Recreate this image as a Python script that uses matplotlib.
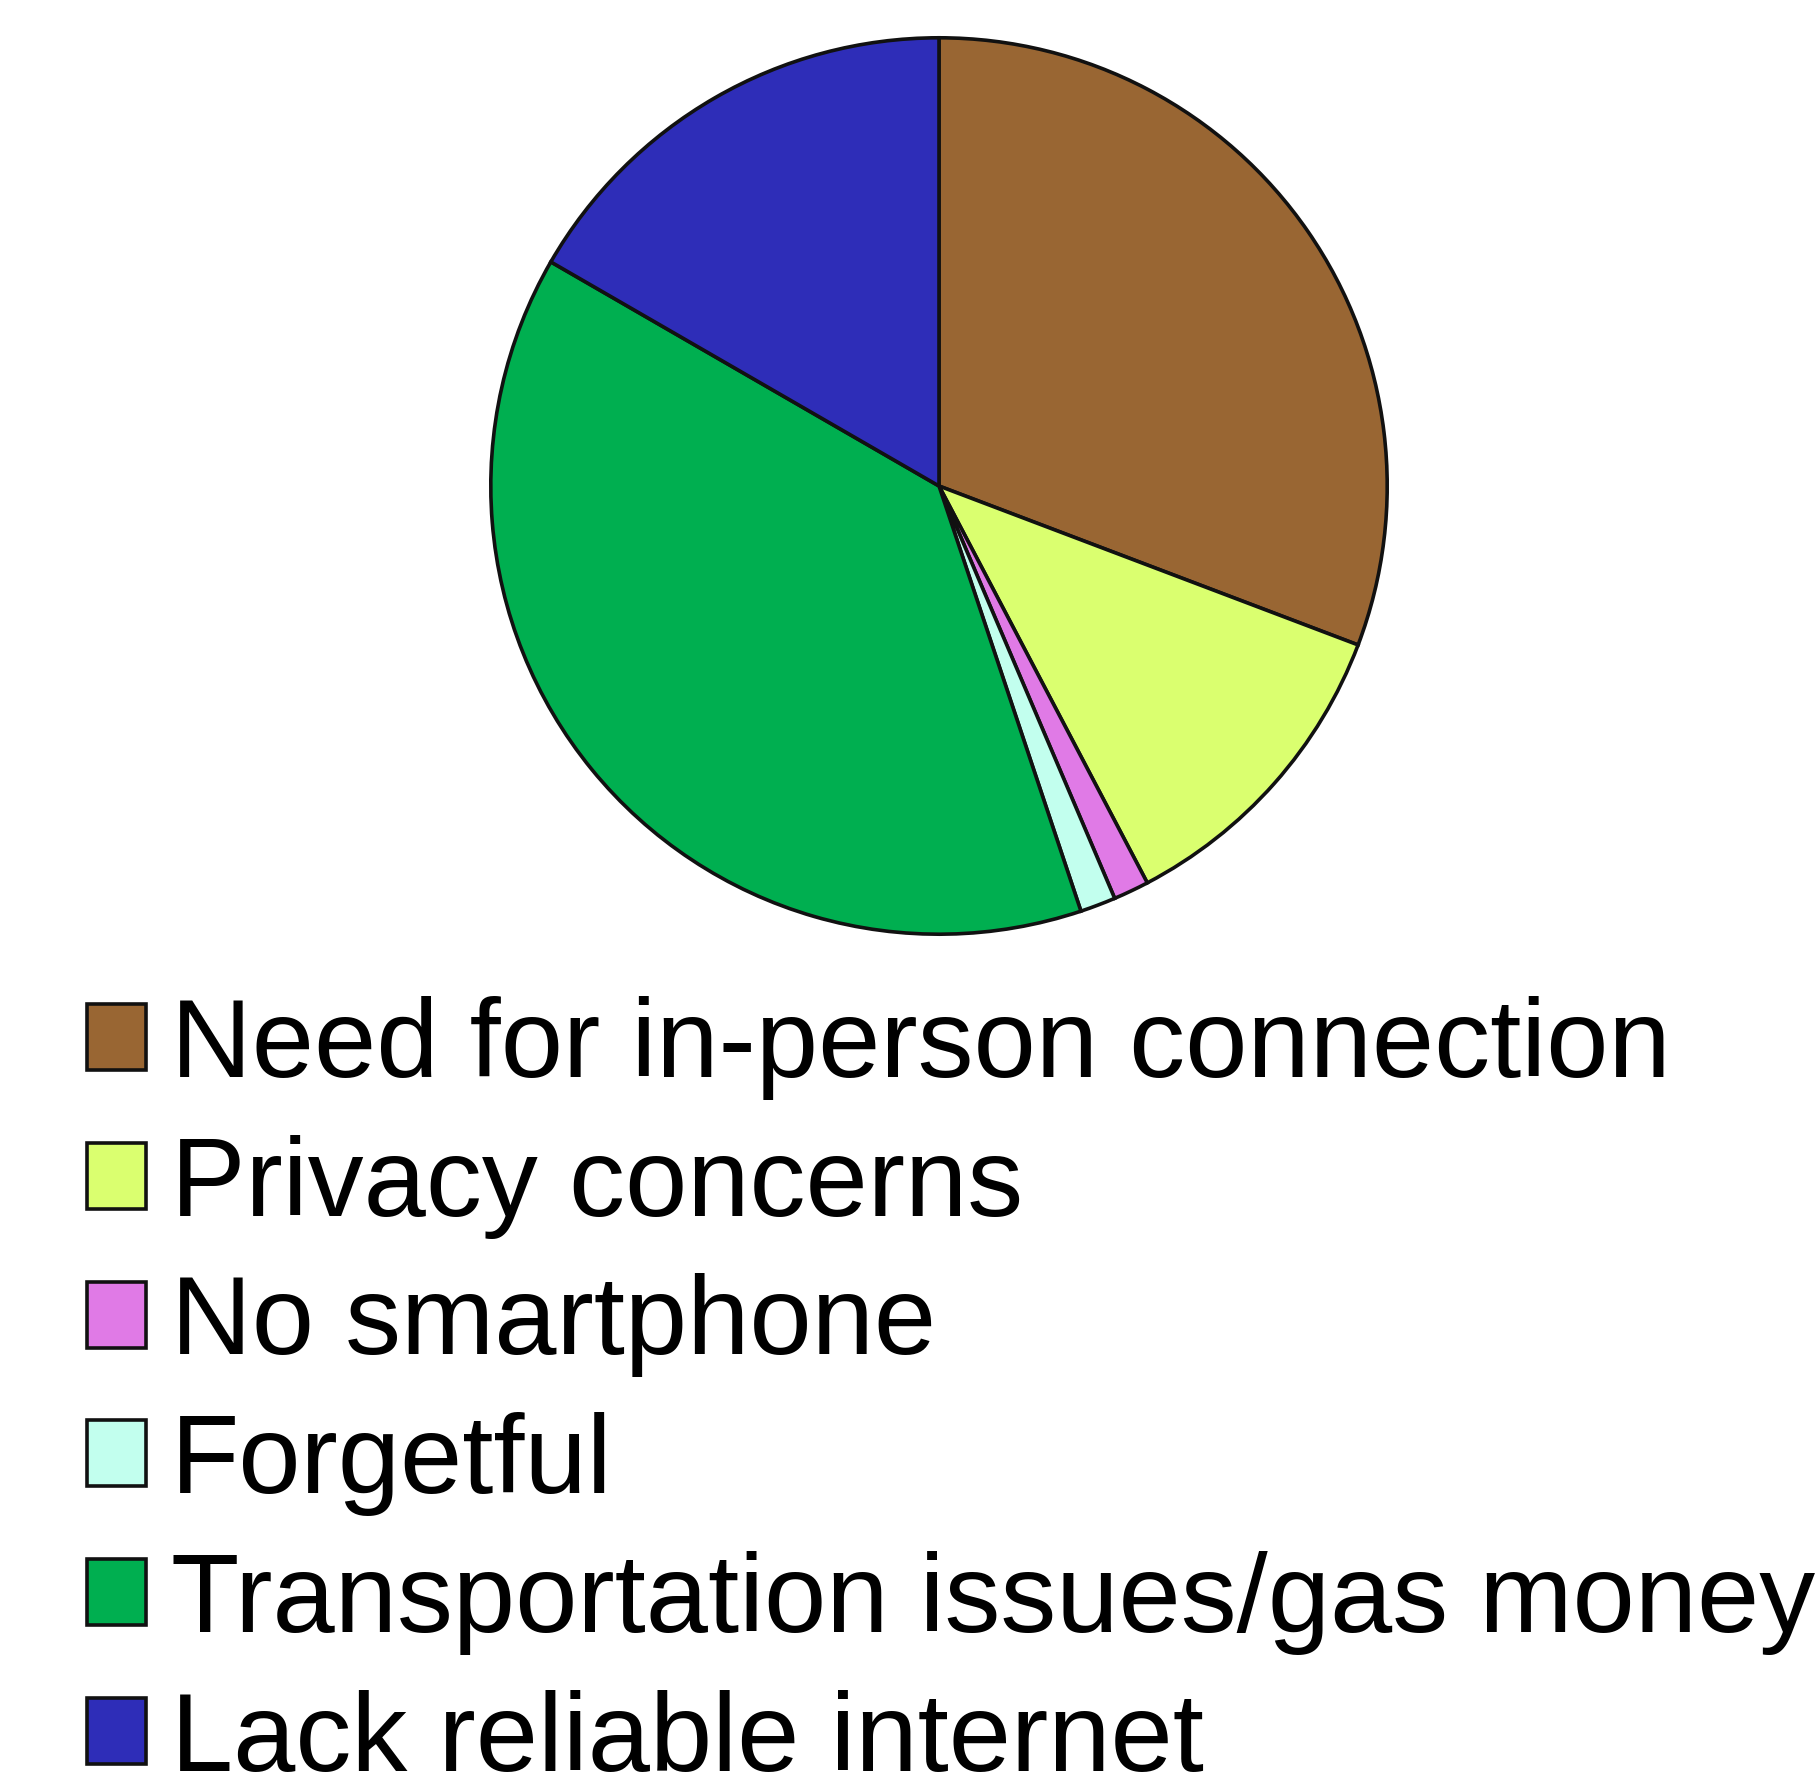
import matplotlib.pyplot as plt

plt.rcParams["font.family"] = ["Liberation Sans", "DejaVu Sans"]

labels = [
    "Need for in-person connection",
    "Privacy concerns",
    "No smartphone",
    "Forgetful",
    "Transportation issues/gas money",
    "Lack reliable internet",
]
counts = [24, 9, 1, 1, 30, 13]
colors = ["#996633", "#DAFF6F", "#E07AE6", "#C2FFEE", "#00AF50", "#2E2DB8"]

W, H = 1820, 1782
fig = plt.figure(figsize=(W / 100, H / 100), dpi=100)

cx, cy, r = 939, 486, 450
ax = fig.add_axes([(cx - r) / W, (H - cy - r) / H, 2 * r / W, 2 * r / H])
wedges, _ = ax.pie(
    counts,
    colors=colors,
    startangle=90,
    counterclock=False,
    wedgeprops={"edgecolor": "#111111", "linewidth": 2.6},
)
ax.set_xlim(-1.004, 1.004)
ax.set_ylim(-1.004, 1.004)
ax.set_aspect("equal")

# legend is deliberately allowed to run off the right/bottom edge, as in the source
fig.legend(
    wedges,
    labels,
    loc="upper left",
    bbox_to_anchor=(87 / W, 1 - 996 / H),
    frameon=False,
    fontsize=80.6,
    handlelength=0.53,
    handleheight=0.53,
    handletextpad=0.22,
    labelspacing=0.31,
    borderpad=0,
    borderaxespad=0,
)

fig.savefig("out.png", dpi=100)
